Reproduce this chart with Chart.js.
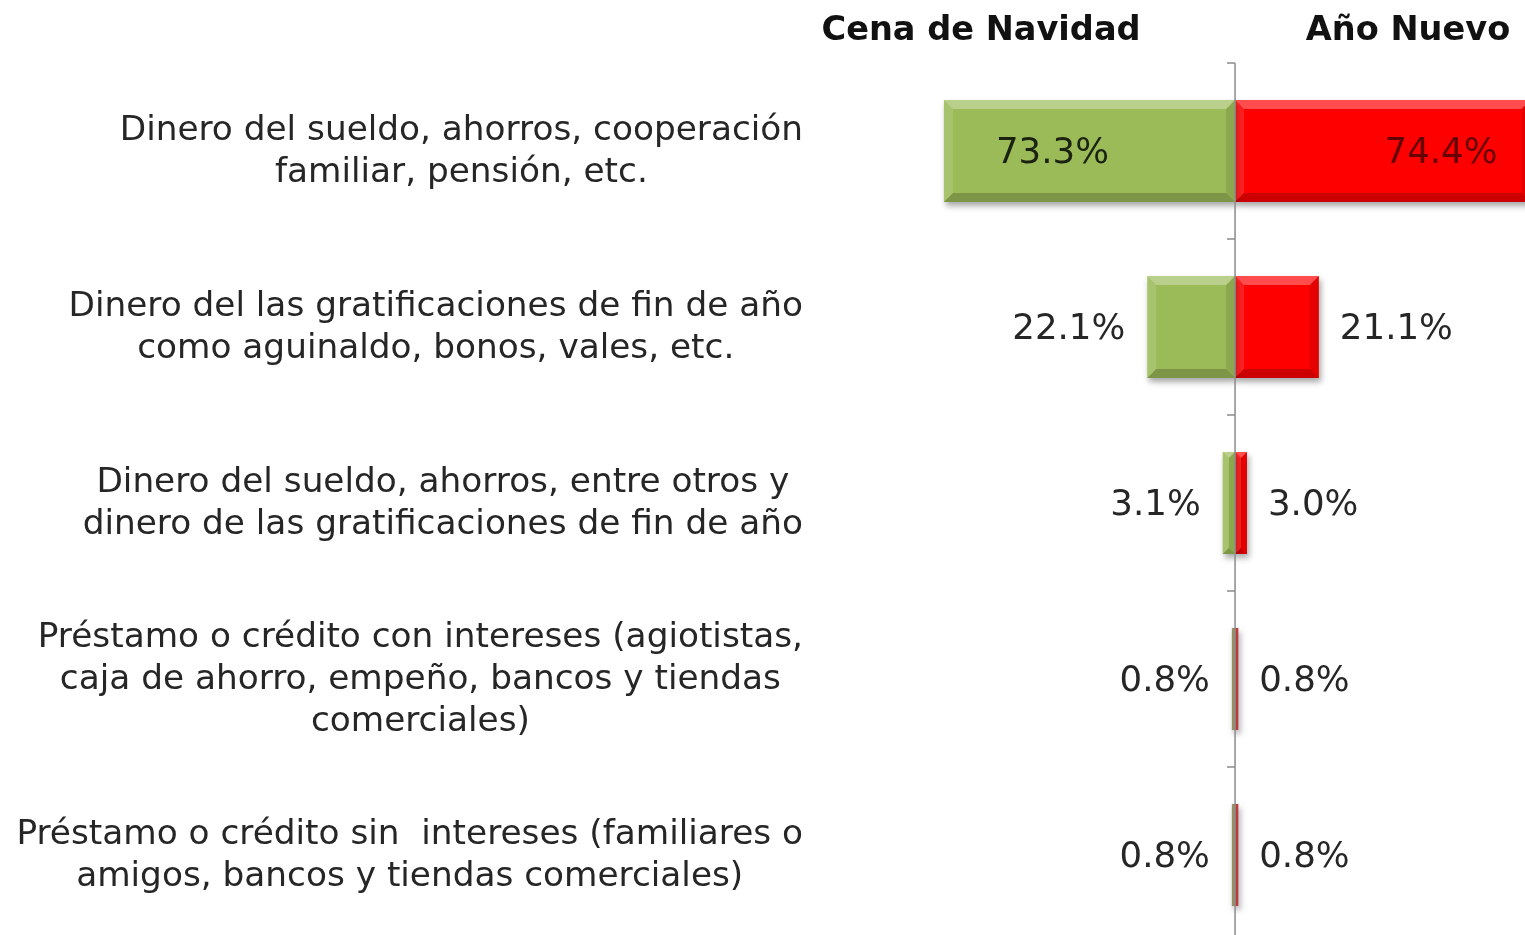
<!DOCTYPE html>
<html>
<head>
<meta charset="utf-8">
<script src="https://cdn.jsdelivr.net/npm/chart.js@4.4.1/dist/chart.umd.min.js"></script>
<style>
  html, body { margin: 0; padding: 0; background: #fff; overflow: hidden; }
  #wrap { position: relative; width: 1525px; height: 945px; }
</style>
</head>
<body>
<div id="wrap"><canvas id="chart"></canvas></div>
<script>
// Categories (multi-line labels)
const categories = [
  ["Dinero del sueldo, ahorros, cooperación", "familiar, pensión, etc."],
  ["Dinero del las gratificaciones de fin de año", "como aguinaldo, bonos, vales, etc."],
  ["Dinero del sueldo, ahorros, entre otros y", "dinero de las gratificaciones de fin de año"],
  ["Préstamo o crédito con intereses (agiotistas,", "caja de ahorro, empeño, bancos y tiendas", "comerciales)"],
  ["Préstamo o crédito sin  intereses (familiares o", "amigos, bancos y tiendas comerciales)"],
];

// Series values (%)
const cenaNavidad = [73.3, 22.1, 3.1, 0.8, 0.8];
const anoNuevo = [74.4, 21.1, 3.0, 0.8, 0.8];
const seriesNames = ["Cena de Navidad", "Año Nuevo"];

// Colors
const colors = {
  green: "#9bbb59",
  red: "#ff0000",
  text: "#262626",
  axis: "#8c8c8c",
};

const FONT = "'DejaVu Sans', Verdana, sans-serif";

// Bevel, shadow, axis and labels
const decor = {
  id: "decor",
  beforeDatasetDraw(chart) {
    const ctx = chart.ctx;
    ctx.save();
    ctx.shadowColor = "rgba(0,0,0,0.35)";
    ctx.shadowBlur = 6;
    ctx.shadowOffsetX = 2;
    ctx.shadowOffsetY = 4;
  },
  afterDatasetDraw(chart) {
    chart.ctx.restore();
  },
  afterDatasetsDraw(chart) {
    const ctx = chart.ctx;
    const area = chart.chartArea;
    const xs = chart.scales.x;
    const ys = chart.scales.y;
    const zero = xs.getPixelForValue(0);

    // bevel on each bar
    ctx.save();
    ctx.beginPath();
    ctx.rect(area.left, area.top, area.right - area.left, area.bottom - area.top);
    ctx.clip();
    chart.data.datasets.forEach((ds, di) => {
      chart.getDatasetMeta(di).data.forEach((bar) => {
        const p = bar.getProps(["x", "y", "base", "height"], true);
        const l = Math.min(p.x, p.base), r = Math.max(p.x, p.base);
        const t = p.y - p.height / 2, b = p.y + p.height / 2;
        if (r - l < 6) {
          // very thin bars look muddy in the original
          ctx.fillStyle = "rgba(150,110,110,0.55)";
          ctx.fillRect(l, t, r - l, b - t);
          return;
        }
        const bv = Math.min(9, (r - l) / 2, p.height / 2);
        const poly = (pts, fill) => {
          ctx.beginPath();
          ctx.moveTo(pts[0][0], pts[0][1]);
          pts.slice(1).forEach((q) => ctx.lineTo(q[0], q[1]));
          ctx.closePath();
          ctx.fillStyle = fill;
          ctx.fill();
        };
        poly([[l, t], [r, t], [r - bv, t + bv], [l + bv, t + bv]], "rgba(255,255,255,0.3)");
        poly([[l, t], [l + bv, t + bv], [l + bv, b - bv], [l, b]], "rgba(255,255,255,0.12)");
        poly([[l, b], [l + bv, b - bv], [r - bv, b - bv], [r, b]], "rgba(0,0,0,0.2)");
        poly([[r, t], [r, b], [r - bv, b - bv], [r - bv, t + bv]], "rgba(0,0,0,0.1)");
      });
    });
    ctx.restore();

    // center axis with tick marks between categories
    const band = (ys.getPixelForValue(1) - ys.getPixelForValue(0));
    ctx.save();
    ctx.strokeStyle = colors.axis;
    ctx.lineWidth = 1.5;
    ctx.beginPath();
    ctx.moveTo(zero, area.top);
    ctx.lineTo(zero, area.bottom);
    for (let i = 0; i <= categories.length; i++) {
      const y = ys.getPixelForValue(0) - band / 2 + i * band;
      ctx.moveTo(zero - 8, y);
      ctx.lineTo(zero, y);
    }
    ctx.stroke();
    ctx.restore();

    // value labels
    ctx.save();
    ctx.font = "35.6px " + FONT;
    ctx.textBaseline = "middle";
    categories.forEach((c, i) => {
      const y = ys.getPixelForValue(i) + 3;
      const gLeft = xs.getPixelForValue(-cenaNavidad[i]);
      const gTxt = cenaNavidad[i].toFixed(1) + "%";
      if (cenaNavidad[i] > 50) {
        ctx.fillStyle = "rgba(0,0,0,0.82)";
        ctx.textAlign = "left";
        ctx.fillText(gTxt, gLeft + 52, y);
      } else {
        ctx.fillStyle = colors.text;
        ctx.textAlign = "right";
        ctx.fillText(gTxt, gLeft - 22, y);
      }
      const rRight = xs.getPixelForValue(anoNuevo[i]);
      const rTxt = anoNuevo[i].toFixed(1) + "%";
      if (anoNuevo[i] > 50) {
        ctx.fillStyle = "rgba(0,0,0,0.6)";
        ctx.textAlign = "right";
        ctx.fillText(rTxt, rRight - 33, y);
      } else {
        ctx.fillStyle = colors.text;
        ctx.textAlign = "left";
        ctx.fillText(rTxt, rRight + 21, y);
      }
    });
    ctx.restore();

    // category labels: block right-aligned, lines centered
    ctx.save();
    ctx.font = "34.3px " + FONT;
    ctx.fillStyle = colors.text;
    ctx.textAlign = "center";
    ctx.textBaseline = "middle";
    const rightEdge = area.left - 17;
    categories.forEach((lines, i) => {
      const w = Math.max(...lines.map((s) => ctx.measureText(s).width));
      const cx = rightEdge - w / 2;
      const cy = ys.getPixelForValue(i);
      lines.forEach((s, j) => {
        ctx.fillText(s, cx, cy + (j - (lines.length - 1) / 2) * 42 + 1);
      });
    });
    ctx.restore();

    // series headers
    ctx.save();
    ctx.font = "bold 33.6px " + FONT;
    ctx.fillStyle = "#111";
    ctx.textAlign = "center";
    ctx.textBaseline = "middle";
    ctx.fillText(seriesNames[0], zero - 254, 31);
    ctx.fillText(seriesNames[1], zero + 173, 31);
    ctx.restore();
  },
};

new Chart(document.getElementById("chart"), {
  type: "bar",
  data: {
    labels: categories,
    datasets: [
      {
        label: seriesNames[0],
        data: cenaNavidad.map((v) => -v),
        backgroundColor: colors.green,
        borderWidth: 0,
      },
      {
        label: seriesNames[1],
        data: anoNuevo,
        backgroundColor: colors.red,
        borderWidth: 0,
      },
    ],
  },
  options: {
    indexAxis: "y",
    responsive: true,
    maintainAspectRatio: false,
    animation: false,
    layout: { padding: { left: 820, top: 63, right: 0, bottom: 2 } },
    datasets: { bar: { barPercentage: 0.58, categoryPercentage: 1.0 } },
    scales: {
      x: { type: "linear", min: -104.5, max: 73, stacked: true, display: false },
      y: { type: "category", stacked: true, display: false, offset: true },
    },
    plugins: {
      legend: { display: false },
      tooltip: { enabled: false },
    },
  },
  plugins: [decor],
});
</script>
</body>
</html>
